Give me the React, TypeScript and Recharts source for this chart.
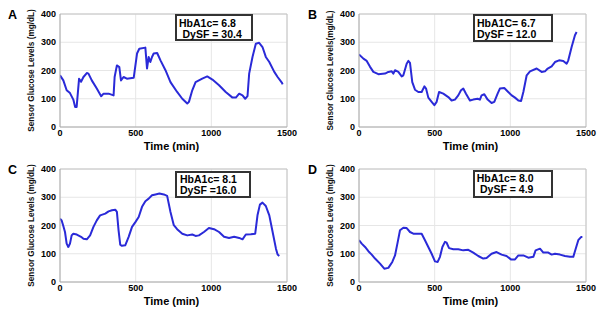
import React from "react";
import {
  LineChart,
  Line,
  XAxis,
  YAxis,
  CartesianGrid,
  ReferenceLine,
  Label,
} from "recharts";

// ---------- DATA ----------
const xTicks = [0, 500, 1000, 1500];
const yTicks = [0, 100, 200, 300, 400];

const timeA = [0, 22, 44, 66, 88, 100, 110, 126, 139, 155, 177, 188, 210, 243, 272, 288, 321, 354, 361, 376, 392, 403, 420, 442, 487, 509, 524, 564, 575, 586, 597, 608, 619, 642, 664, 697, 730, 774, 808, 841, 852, 874, 896, 940, 973, 1007, 1051, 1095, 1140, 1162, 1184, 1206, 1224, 1239, 1250, 1272, 1294, 1316, 1338, 1360, 1383, 1416, 1438, 1467, 1471];
const glucoseA = [183, 165, 130, 120, 97, 71, 71, 171, 160, 177, 191, 189, 165, 136, 109, 118, 118, 112, 177, 218, 212, 165, 177, 171, 174, 260, 277, 281, 207, 248, 230, 248, 260, 262, 236, 201, 159, 124, 100, 83, 89, 130, 159, 171, 179, 168, 148, 124, 104, 104, 118, 112, 100, 109, 189, 248, 295, 298, 283, 248, 230, 195, 177, 156, 151];

const timeB = [0, 29, 51, 73, 95, 128, 172, 194, 216, 227, 238, 260, 282, 293, 315, 326, 337, 352, 370, 392, 414, 432, 443, 458, 480, 498, 513, 529, 557, 590, 612, 634, 656, 674, 689, 707, 733, 755, 784, 799, 810, 828, 850, 876, 894, 916, 931, 960, 986, 1009, 1031, 1053, 1071, 1086, 1108, 1130, 1174, 1207, 1229, 1247, 1273, 1295, 1322, 1350, 1372, 1383, 1405, 1427, 1438];
const glucoseB = [257, 242, 234, 213, 195, 187, 189, 195, 197, 189, 201, 195, 179, 183, 224, 234, 227, 159, 132, 124, 124, 144, 136, 104, 89, 77, 89, 124, 118, 106, 94, 97, 112, 130, 136, 118, 94, 97, 100, 97, 112, 116, 97, 85, 89, 118, 136, 138, 124, 112, 104, 94, 92, 124, 183, 197, 207, 195, 197, 207, 215, 230, 236, 234, 224, 236, 283, 325, 336];

const timeC = [0, 11, 22, 33, 44, 55, 66, 77, 88, 111, 139, 155, 177, 199, 221, 243, 265, 299, 321, 343, 365, 376, 387, 398, 409, 431, 453, 476, 498, 520, 542, 564, 586, 608, 631, 657, 686, 708, 730, 752, 774, 808, 841, 874, 896, 918, 951, 984, 1018, 1051, 1084, 1117, 1151, 1184, 1206, 1228, 1261, 1290, 1305, 1321, 1338, 1360, 1383, 1405, 1427, 1438, 1449];
const glucoseC = [224, 218, 198, 177, 136, 124, 136, 165, 171, 168, 160, 153, 151, 165, 195, 218, 236, 242, 250, 254, 256, 248, 183, 132, 128, 130, 159, 195, 212, 230, 266, 286, 295, 307, 310, 313, 310, 305, 248, 201, 187, 171, 165, 168, 163, 165, 177, 191, 187, 177, 160, 156, 160, 156, 151, 168, 169, 171, 236, 274, 281, 269, 236, 177, 118, 97, 92];

const timeD = [0, 18, 40, 62, 84, 106, 139, 167, 194, 205, 220, 238, 256, 271, 293, 315, 337, 359, 392, 414, 436, 458, 480, 502, 520, 535, 551, 568, 579, 595, 623, 656, 689, 722, 755, 788, 821, 843, 876, 909, 942, 975, 1004, 1031, 1053, 1086, 1119, 1152, 1167, 1196, 1218, 1251, 1273, 1295, 1328, 1361, 1394, 1416, 1432, 1449, 1467, 1476];
const glucoseD = [148, 136, 124, 109, 97, 83, 65, 47, 50, 59, 71, 94, 142, 183, 192, 191, 177, 171, 171, 171, 148, 124, 100, 73, 71, 89, 124, 142, 139, 120, 116, 116, 112, 114, 104, 92, 83, 85, 100, 106, 97, 92, 80, 80, 94, 94, 86, 89, 112, 118, 104, 104, 97, 100, 97, 92, 89, 89, 118, 148, 159, 159];

const panelLetters = ["A", "B", "C", "D"];
const yLabels = [
  "Sensor Glucose Levels (mg/dL)",
  "Sensor Glucose Levels(mg/dL)",
  "Sensor Glucose Levels (mg/dL)",
  "Sensor Glucose Levels (mg/dL)",
];
const noteLine1 = ["HbA1c= 6.8", "HbA1C= 6.7", "HbA1c= 8.1", "HbA1c= 8.0"];
const noteLine2 = ["DySF = 30.4", "DySF = 12.0", "DySF =16.0", "DySF = 4.9"];
const xLabel = "Time (min)";

// ---------- LAYOUT / STYLE ----------
const FONT = "Arial, 'Liberation Sans', Helvetica, sans-serif";
const LINE_COLOR = "#2a2ad8";

type Layout = {
  left: number;
  top: number;
  width: number;
  mLeft: number;
  mRight: number;
  box: { x: number; y: number; w: number; h: number };
  t1x: number;
  t2x: number;
  b1: number;
  b2: number;
};

const layouts: Layout[] = [
  { left: 0, top: 0, width: 300, mLeft: 30, mRight: 13, box: { x: 175, y: 14, w: 78, h: 27 }, t1x: 179, t2x: 182.5, b1: 26.5, b2: 37.5 },
  { left: 300, top: 0, width: 301, mLeft: 29, mRight: 15, box: { x: 173, y: 14, w: 80, h: 28 }, t1x: 177, t2x: 177, b1: 26.8, b2: 37.8 },
  { left: 0, top: 155, width: 300, mLeft: 30, mRight: 13, box: { x: 175, y: 16, w: 76, h: 27 }, t1x: 180, t2x: 180, b1: 27.5, b2: 38.5 },
  { left: 300, top: 155, width: 301, mLeft: 29, mRight: 15, box: { x: 173, y: 15, w: 80, h: 28 }, t1x: 176.7, t2x: 180, b1: 27.2, b2: 38.2 },
];

const CHART_H = 157;
const M_TOP = 14;
const X_AXIS_H = 30;

function buildData(t: number[], v: number[]) {
  return t.map((time, i) => ({ time, glucose: v[i] }));
}

const datasets = [
  buildData(timeA, glucoseA),
  buildData(timeB, glucoseB),
  buildData(timeC, glucoseC),
  buildData(timeD, glucoseD),
];

function Panel({ idx }: { idx: number }) {
  const L = layouts[idx];
  const plotLeft = L.mLeft + 30;
  const plotRight = L.width - L.mRight;
  const plotTop = M_TOP;
  const plotBottom = CHART_H - X_AXIS_H;
  const cx = (plotLeft + plotRight) / 2;
  const cy = (plotTop + plotBottom) / 2;
  const yLabX = plotLeft - 26;

  const yContent = () => (
    <g>
      <text x={8} y={18.5} fontFamily={FONT} fontWeight="bold" fontSize={12.5} fill="#000">
        {panelLetters[idx]}
      </text>
      <text
        x={yLabX}
        y={cy}
        transform={`rotate(-90 ${yLabX} ${cy})`}
        textAnchor="middle"
        fontFamily={FONT}
        fontWeight="bold"
        fontSize={8.2}
        fill="#111"
      >
        {yLabels[idx]}
      </text>
      <rect
        x={L.box.x + 1}
        y={L.box.y + 1}
        width={L.box.w - 2}
        height={L.box.h - 2}
        fill="#fff"
        stroke="#333"
        strokeWidth={2}
      />
      <text x={L.t1x} y={L.b1} fontFamily={FONT} fontWeight="bold" fontSize={10.5} fill="#000">
        {noteLine1[idx]}
      </text>
      <text x={L.t2x} y={L.b2} fontFamily={FONT} fontWeight="bold" fontSize={10.5} fill="#000">
        {noteLine2[idx]}
      </text>
    </g>
  );

  const xContent = () => (
    <text
      x={cx - 2}
      y={150}
      textAnchor="middle"
      fontFamily={FONT}
      fontWeight="bold"
      fontSize={11}
      fill="#000"
    >
      {xLabel}
    </text>
  );

  const tickStyle = { fontFamily: FONT, fontWeight: "bold" as const, fontSize: 9, fill: "#000" };

  return (
    <div style={{ position: "absolute", left: L.left, top: L.top, width: L.width, height: CHART_H }}>
      <LineChart
        width={L.width}
        height={CHART_H}
        data={datasets[idx]}
        margin={{ top: M_TOP, right: L.mRight, bottom: 0, left: L.mLeft }}
      >
        <CartesianGrid stroke="#e6e6e6" strokeWidth={1} />
        <XAxis
          dataKey="time"
          type="number"
          domain={[0, 1500]}
          ticks={xTicks}
          height={X_AXIS_H}
          tickLine={false}
          tickSize={0}
          tickMargin={2.5}
          axisLine={{ stroke: "#a8a8a8" }}
          tick={tickStyle}
          interval={0}
          allowDataOverflow
        >
          <Label content={xContent} />
        </XAxis>
        <YAxis
          dataKey="glucose"
          type="number"
          domain={[0, 400]}
          ticks={yTicks}
          width={30}
          tickLine={false}
          tickSize={0}
          tickMargin={4}
          axisLine={{ stroke: "#a8a8a8" }}
          tick={tickStyle}
          interval={0}
          allowDataOverflow
        >
          <Label content={yContent} />
        </YAxis>
        <ReferenceLine y={400} stroke="#c4c4c4" />
        <ReferenceLine x={1500} stroke="#c4c4c4" />
        <Line
          type="linear"
          dataKey="glucose"
          stroke={LINE_COLOR}
          strokeWidth={2}
          strokeLinejoin="round"
          dot={false}
          isAnimationActive={false}
        />
      </LineChart>
    </div>
  );
}

export default function App() {
  return (
    <div
      style={{
        position: "absolute",
        left: 0,
        top: 0,
        width: 601,
        height: 315,
        background: "#fff",
        overflow: "hidden",
      }}
    >
      {[0, 1, 2, 3].map((i) => (
        <Panel key={i} idx={i} />
      ))}
    </div>
  );
}
